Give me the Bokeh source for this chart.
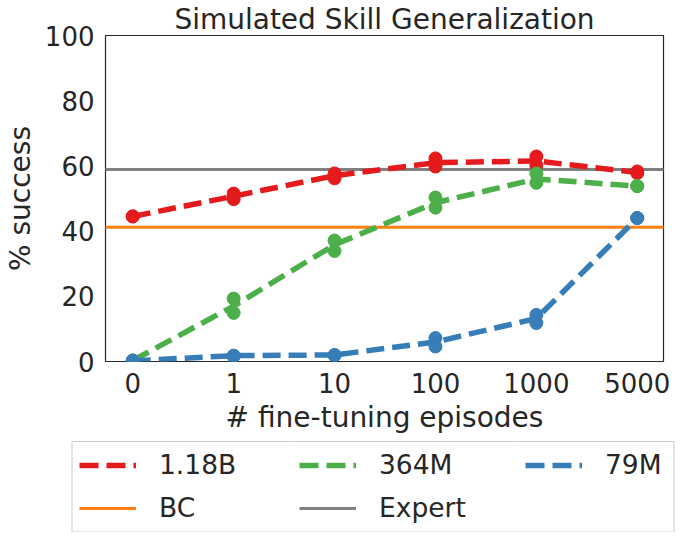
from bokeh.plotting import figure
from bokeh.models import Range1d, FixedTicker, Legend, LegendItem
from bokeh.layouts import column, row
from bokeh.embed import file_html
from bokeh.resources import INLINE

x_labels = ["0", "1", "10", "100", "1000", "5000"]
x_pos = [0, 1, 2, 3, 4, 5]

red_line = [44.5, 50.7, 57.0, 61.0, 61.5, 58.0]
red_a = [44.5, 51.5, 57.7, 62.3, 62.9, 57.8]
red_b = [44.5, 49.8, 56.2, 59.8, 60.2, 58.3]

green_line = [0.3, 17.0, 35.8, 48.7, 56.0, 53.8]
green_a = [0.3, 19.3, 37.1, 50.3, 57.7, 53.8]
green_b = [0.3, 14.9, 33.9, 47.2, 54.8, 53.8]

blue_line = [0.2, 1.8, 2.0, 6.0, 13.2, 44.0]
blue_a = [0.2, 1.8, 2.0, 7.2, 14.3, 44.0]
blue_b = [0.2, 1.6, 1.9, 4.6, 11.8, 44.0]

bc_value = 41.2
expert_value = 58.9

series_names = ["1.18B", "364M", "79M"]
series_colors = ["#e41a1c", "#4daf4a", "#377eb8"]
bc_color = "#ff7f0e"
expert_color = "#808080"

TXT = "#262626"
FONT = "DejaVu Sans"

p = figure(width=665, height=432, frame_width=558, frame_height=326,
           output_backend="svg", toolbar_location=None,
           x_range=Range1d(-0.27, 5.26), y_range=Range1d(0, 100),
           min_border_left=94, min_border_right=13, min_border_top=0,
           min_border_bottom=79)
p.title.text = "Simulated Skill Generalization"
p.title.text_font = FONT
p.title.text_font_size = "28px"
p.title.text_font_style = "normal"
p.title.text_color = TXT
p.title.align = "center"
p.title.standoff = 0

p.grid.visible = False
p.outline_line_color = "#262626"
p.outline_line_width = 1.2

for ax in (p.xaxis[0], p.yaxis[0]):
    ax.axis_line_color = None
    ax.major_tick_line_color = None
    ax.minor_tick_line_color = None
    ax.major_label_text_font = FONT
    ax.major_label_text_font_size = "26px"
    ax.major_label_text_color = TXT
    ax.axis_label_text_font = FONT
    ax.axis_label_text_font_size = "28px"
    ax.axis_label_text_font_style = "normal"
    ax.axis_label_text_color = TXT

p.xaxis.ticker = FixedTicker(ticks=x_pos)
p.xaxis.major_label_overrides = {i: l for i, l in zip(x_pos, x_labels)}
p.xaxis.axis_label = "# fine-tuning episodes"
p.yaxis.ticker = FixedTicker(ticks=[0, 20, 40, 60, 80, 100])
p.yaxis.axis_label = "% success"

p.line([-1, 6], [bc_value, bc_value], line_color=bc_color, line_width=3)
p.line([-1, 6], [expert_value, expert_value], line_color=expert_color, line_width=3)

for col, line, a, b in zip(series_colors, [red_line, green_line, blue_line],
                           [red_a, green_a, blue_a], [red_b, green_b, blue_b]):
    p.line(x_pos, line, line_color=col, line_width=5.5, line_dash="18 8")
    p.scatter(x_pos, a, size=13, color=col)
    p.scatter(x_pos, b, size=13, color=col)

# legend strip: three columns, each its own small figure
LG_H = 92
col_spans = [(70, 290), (290, 516), (516, 676)]
col_entries = [
    [(series_names[0], series_colors[0], True), ("BC", bc_color, False)],
    [(series_names[1], series_colors[1], True), ("Expert", expert_color, False)],
    [(series_names[2], series_colors[2], True)],
]

figs = []
off = [-1000, -990]
for i, ((x0, x1), entries) in enumerate(zip(col_spans, col_entries)):
    lead = x0 if i == 0 else 0
    f = figure(width=x1 - x0 + lead, height=LG_H, output_backend="svg",
               toolbar_location=None, x_axis_type=None, y_axis_type=None,
               x_range=Range1d(x0, x1), y_range=Range1d(0, LG_H),
               min_border=0, min_border_left=lead)
    f.outline_line_color = None
    f.grid.visible = False
    # legend frame box (shared across the three strips)
    f.quad(left=[71.5], right=[673.5], bottom=[0.5], top=[LG_H - 1],
           fill_color="white", line_color="#cccccc", line_width=1)
    items = []
    for name, c, dashed in entries:
        if dashed:
            r = f.line(off, off, line_color=c, line_width=5.5, line_dash="19 8")
        else:
            r = f.line(off, off, line_color=c, line_width=3)
        items.append(LegendItem(label=name, renderers=[r]))
    lgd = Legend(items=items, location="top_left", orientation="vertical",
                 label_text_font=FONT, label_text_font_size="26.5px",
                 label_text_color=TXT, glyph_width=57, glyph_height=20,
                 label_standoff=23, spacing=12, padding=9, margin=0,
                 border_line_color="white", border_line_alpha=0,
                 background_fill_alpha=0, label_height=30)
    f.add_layout(lgd, "center")
    figs.append(f)

page = column(p, row(*figs, spacing=0), spacing=0)
open("out.html", "w").write(file_html(page, INLINE))
